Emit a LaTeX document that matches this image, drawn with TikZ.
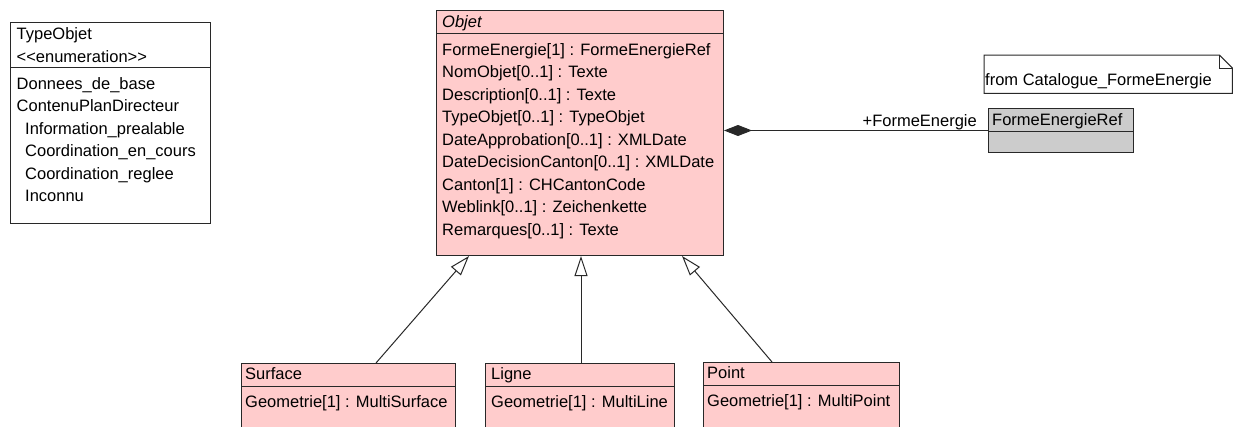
\documentclass[tikz,border=0pt]{standalone}
\usepackage{fontspec}
\setmainfont{Liberation Sans}
\usetikzlibrary{arrows.meta}

\definecolor{classpink}{RGB}{255,204,204}
\definecolor{refgrey}{RGB}{204,204,204}
\definecolor{umlline}{RGB}{40,40,40}

\tikzset{
  classbox/.style={draw=umlline, line width=1pt, anchor=north west, inner sep=0pt},
  divider/.style={draw=umlline, line width=1pt},
  umltext/.style={anchor=north west, inner sep=0pt, align=left, font=\fontsize{16.5}{22.5}\selectfont},
  umlword/.style={inner sep=0pt, font=\fontsize{16.5}{22.5}\selectfont},
  generalization/.style={draw=umlline, line width=1pt, -{Triangle[open, length=20pt, width=13pt]}},
  composition/.style={draw=umlline, line width=1pt, {Diamond[length=28pt, width=11pt]}-},
}

\begin{document}
\begin{tikzpicture}[x=1pt, y=-1pt]

\clip (0,0) rectangle (1241,426);
\fill[white] (0,0) rectangle (1241,426);

\node[classbox, fill=white, minimum width=200pt, minimum height=201pt] (type_objet) at (10,22) {};
\draw[divider] ([yshift=-45pt]type_objet.north west) -- ([yshift=-45pt]type_objet.north east);
\node[umltext] (type_objet_head) at (16.5,27.5) {TypeObjet\\<{}<enumeration>{}>};
\node[umltext] (type_objet_values) at (16.5,77) {Donnees\_de\_base\\ContenuPlanDirecteur\\\hspace*{8.5pt}Information\_prealable\\\hspace*{8.5pt}Coordination\_en\_cours\\\hspace*{8.5pt}Coordination\_reglee\\\hspace*{8.5pt}Inconnu};

\node[classbox, fill=classpink, minimum width=287pt, minimum height=245pt] (objet) at (436,10) {};
\draw[divider] ([yshift=-23pt]objet.north west) -- ([yshift=-23pt]objet.north east);
\node[umltext, font=\fontsize{16.5}{22.5}\selectfont\itshape] (objet_head) at (442,15.5) {Objet};
\node[umltext] (objet_attrs) at (442,43) {FormeEnergie[1] : FormeEnergieRef\\NomObjet[0..1] : Texte\\Description[0..1] : Texte\\TypeObjet[0..1] : TypeObjet\\DateApprobation[0..1] : XMLDate\\DateDecisionCanton[0..1] : XMLDate\\Canton[1] : CHCantonCode\\Weblink[0..1] : Zeichenkette\\Remarques[0..1] : Texte};

\node[classbox, fill=refgrey, minimum width=145pt, minimum height=44pt] (forme_energie_ref) at (988,108) {};
\draw[divider] ([yshift=-23pt]forme_energie_ref.north west) -- ([yshift=-23pt]forme_energie_ref.north east);
\node[umlword, anchor=base west] (forme_energie_ref_head) at (992,125) {FormeEnergieRef};

\node[inner sep=0pt, anchor=north west, minimum width=248pt, minimum height=38pt] (catalogue_note) at (984,55) {};
\draw[divider, fill=white] (catalogue_note.north west) -- ([xshift=-13pt]catalogue_note.north east) -- ([yshift=-13pt]catalogue_note.north east) -- (catalogue_note.south east) -- (catalogue_note.south west) -- cycle;
\draw[divider] ([xshift=-13pt]catalogue_note.north east) |- ([yshift=-13pt]catalogue_note.north east);
\node[umlword, anchor=base west] (catalogue_note_text) at (985,85) {from Catalogue\_FormeEnergie};

\node[classbox, fill=classpink, minimum width=214pt, minimum height=80pt] (surface) at (241,363) {};
\draw[divider] ([yshift=-23pt]surface.north west) -- ([yshift=-23pt]surface.north east);
\node[umlword, anchor=base west] (surface_head) at (245,379) {Surface};
\node[umlword, anchor=base west] (surface_attr) at (245,407) {Geometrie[1] : MultiSurface};

\node[classbox, fill=classpink, minimum width=189pt, minimum height=80pt] (ligne) at (485,363) {};
\draw[divider] ([yshift=-23pt]ligne.north west) -- ([yshift=-23pt]ligne.north east);
\node[umlword, anchor=base west] (ligne_head) at (491,379) {Ligne};
\node[umlword, anchor=base west] (ligne_attr) at (491,407) {Geometrie[1] : MultiLine};

\node[classbox, fill=classpink, minimum width=196pt, minimum height=80pt] (point) at (703,362) {};
\draw[divider] ([yshift=-23pt]point.north west) -- ([yshift=-23pt]point.north east);
\node[umlword, anchor=base west] (point_head) at (707,378) {Point};
\node[umlword, anchor=base west] (point_attr) at (707,406) {Geometrie[1] : MultiPoint};

\draw[generalization] ([xshift=135pt]surface.north west) -- ([xshift=33pt]objet.south west);
\draw[generalization] ([xshift=96pt]ligne.north west) -- ([xshift=145pt]objet.south west);
\draw[generalization] ([xshift=69pt]point.north west) -- ([xshift=246pt]objet.south west);

\draw[composition] (objet.east |- forme_energie_ref.west) -- (forme_energie_ref.west);
\node[umlword, anchor=base east] (forme_energie_role) at (977,126) {+FormeEnergie};

\end{tikzpicture}
\end{document}
